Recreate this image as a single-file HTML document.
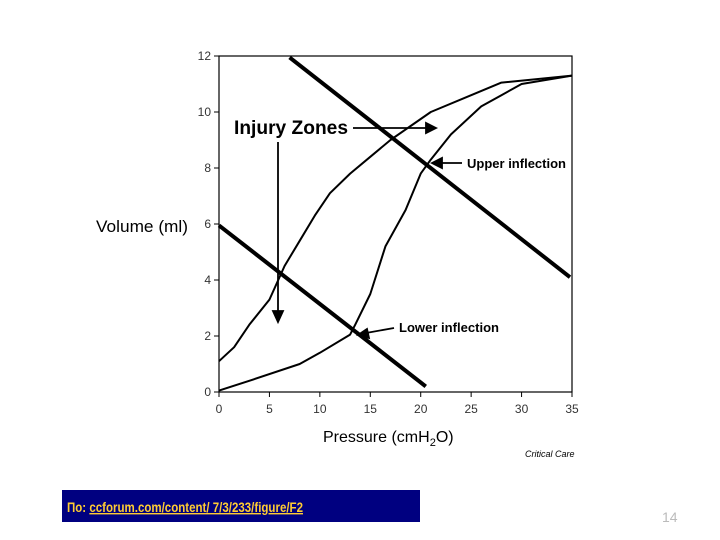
<!DOCTYPE html>
<html><head><meta charset="utf-8"><style>
body{margin:0;width:720px;height:540px;background:#fff;overflow:hidden;position:relative;font-family:"Liberation Sans",sans-serif}
svg{position:absolute;left:0;top:0}
</style></head><body>
<svg width="720" height="540">
<g id="ax"></g><g id="marks"></g>
<text x="96" y="232" font-size="17" textLength="92" lengthAdjust="spacingAndGlyphs">Volume (ml)</text>
<text x="323" y="442" font-size="16">Pressure (cmH<tspan font-size="11" dy="4">2</tspan><tspan dy="-4">O)</tspan></text>
<text x="525" y="457" font-size="9" font-style="italic">Critical Care</text>
<text x="234" y="134" font-size="19" font-weight="bold" textLength="114" lengthAdjust="spacingAndGlyphs">Injury Zones</text>
<g stroke="#000" stroke-width="1.8" fill="#000">
<line x1="353" y1="128" x2="428" y2="128"/><polygon points="436,128 426,123 426,133"/>
<line x1="278" y1="142" x2="278" y2="313"/><polygon points="278,322 273,311 283,311"/>
<line x1="462" y1="163" x2="440" y2="163"/><polygon points="432,163 442,158 442,168"/>
<line x1="394" y1="328" x2="366" y2="333"/><polygon points="358,335 367,329 369,338"/>
</g>
<text x="467" y="168" font-size="13" font-weight="bold" textLength="99" lengthAdjust="spacingAndGlyphs">Upper inflection</text>
<text x="399" y="332" font-size="13" font-weight="bold" textLength="100" lengthAdjust="spacingAndGlyphs">Lower inflection</text>
<rect x="62" y="490" width="358" height="32" fill="#000080"/>
<text x="67" y="512" font-size="14" font-weight="bold" fill="#ffcc33" textLength="236" lengthAdjust="spacingAndGlyphs">По: <tspan text-decoration="underline">ccforum.com/content/ 7/3/233/figure/F2</tspan></text>
<text x="662" y="522" font-size="14" fill="#bbb">14</text>
</svg>
<script>
const xTicks=[0,5,10,15,20,25,30,35];
const yTicks=[0,2,4,6,8,10,12];
const inflX=[0,3,8,10,13,13.5,15,16.5,18.5,20,21,23,26,28,30,35];
const inflY=[0.05,0.4,1.0,1.4,2.05,2.4,3.5,5.2,6.5,7.8,8.3,9.2,10.2,10.6,11.0,11.3];
const deflX=[0,1.5,3,5,6.5,8,9.5,11,13,15,17,19,21,25,28,35];
const deflY=[1.1,1.6,2.4,3.3,4.5,5.4,6.3,7.1,7.8,8.4,9.0,9.5,10,10.6,11.05,11.3];
const upperLineX=[7,34.8];
const upperLineY=[11.95,4.1];
const lowerLineX=[0,20.5];
const lowerLineY=[5.95,0.2];
const X0=219,X1=572,Y0=392,Y1=56;
const sx=v=>X0+(X1-X0)*v/35, sy=v=>Y0-(Y0-Y1)*v/12;
const NS="http://www.w3.org/2000/svg";
function mk(t,a,p){const e=document.createElementNS(NS,t);for(const k in a)e.setAttribute(k,a[k]);p.appendChild(e);return e;}
const ax=document.getElementById('ax'),mg=document.getElementById('marks');
const box=mk('rect',{x:X0,y:Y1,width:X1-X0,height:Y0-Y1,fill:'none',stroke:'#000','stroke-width':1.2},ax);


xTicks.forEach(v=>{mk('line',{x1:sx(v),x2:sx(v),y1:Y0,y2:Y0+5,stroke:'#000'},ax);
const t=mk('text',{x:sx(v),y:Y0+21,'font-size':12,'text-anchor':'middle',fill:'#333'},ax);t.textContent=v;

});
yTicks.forEach(v=>{mk('line',{x1:X0-5,x2:X0,y1:sy(v),y2:sy(v),stroke:'#000'},ax);
const t=mk('text',{x:X0-8,y:sy(v)+4,'font-size':12,'text-anchor':'end',fill:'#333'},ax);t.textContent=v;

});
function line(xs,ys,w,name){const p=mk('polyline',{points:xs.map((x,i)=>sx(x)+','+sy(ys[i])).join(' '),fill:'none',stroke:'#000','stroke-width':w,'stroke-linejoin':'round'},mg);

}
line(inflX,inflY,2,'inflation-curve');
line(deflX,deflY,2,'deflation-curve');
line(upperLineX,upperLineY,4,'upper-injury-line');
line(lowerLineX,lowerLineY,4,'lower-injury-line');
</script>
</body></html>
